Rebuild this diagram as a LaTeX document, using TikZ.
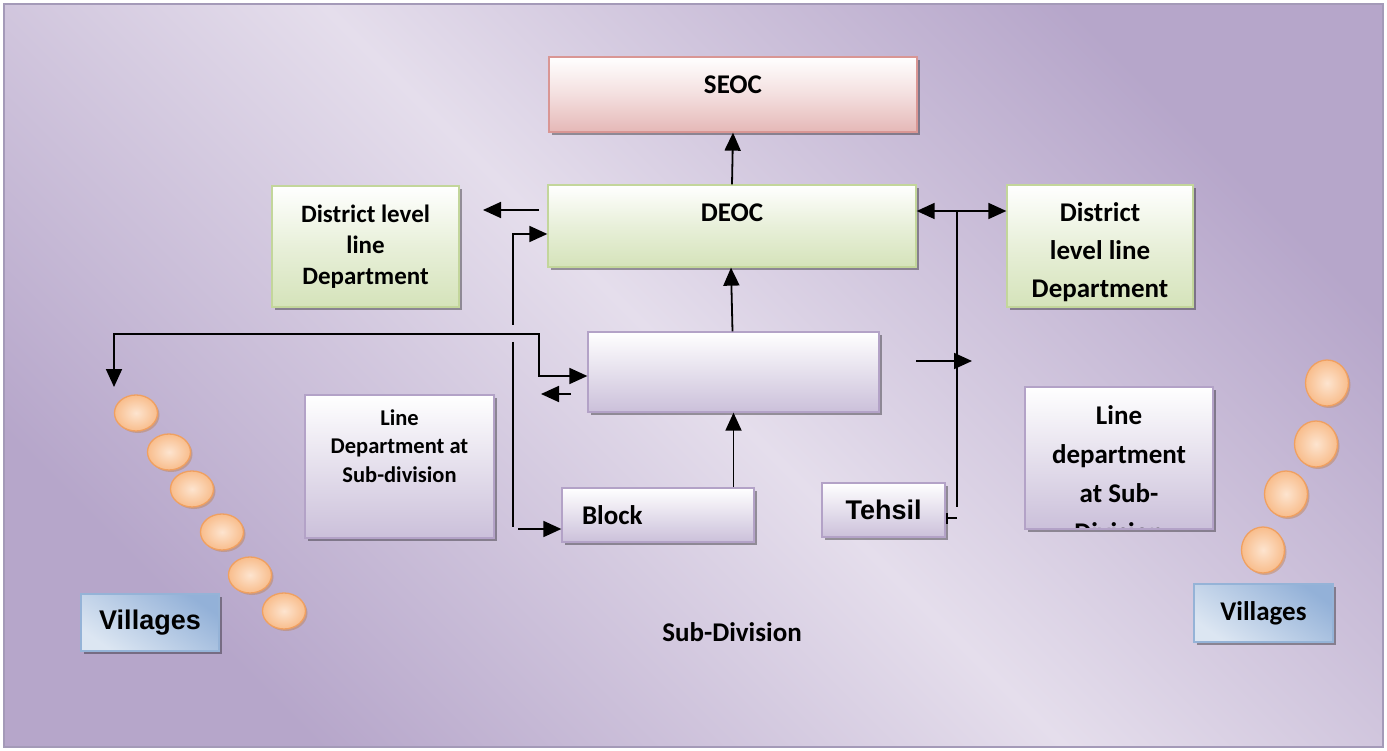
\documentclass[tikz,border=0pt]{standalone}
\usepackage{fontspec}
\newfontfamily\calib{Carlito}
\newfontfamily\arl{Liberation Sans}
\usetikzlibrary{shadows,shapes.geometric,arrows.meta}
\definecolor{bgdark}{HTML}{B6A6CA}
\definecolor{bglight}{HTML}{E5DEEC}
\definecolor{frameC}{HTML}{A49AB8}
\definecolor{grB}{HTML}{D5E3BA}
\definecolor{grD}{HTML}{C3D69B}
\definecolor{pkB}{HTML}{E5B8B7}
\definecolor{pkD}{HTML}{D99694}
\definecolor{puB}{HTML}{CBC0DA}
\definecolor{puD}{HTML}{B3A2C7}
\definecolor{blB}{HTML}{93B1D8}
\definecolor{blL}{HTML}{DCE6F2}
\definecolor{blD}{HTML}{95B3D7}
\definecolor{orL}{HTML}{FDE4CF}
\definecolor{orB}{HTML}{F8BD8C}
\definecolor{orD}{HTML}{F0A060}
\begin{document}
\begin{tikzpicture}[x=1pt,y=-1pt,
  shd/.style={drop shadow={shadow xshift=3pt,shadow yshift=-3pt,fill=black,opacity=0.35}},
  box/.style={rectangle, draw, line width=1.3pt, inner sep=0pt, shd,
    font=\calib\bfseries\fontsize{27}{33}\selectfont},
  pinkbox/.style={box, draw=pkD, top color=white, bottom color=pkB, middle color=pkB!45!white},
  greenbox/.style={box, draw=grD, top color=white, bottom color=grB, middle color=grB!55!white},
  purplebox/.style={box, draw=puD, top color=white, bottom color=puB, middle color=puB!50!white},
  bluebox/.style={box, draw=blD, top color=blB, bottom color=blL, shading angle=-35},
  bead/.style={ellipse, draw=orD, line width=1.3pt, inner color=orL, outer color=orB,
    inner sep=0pt, drop shadow={shadow xshift=2pt,shadow yshift=-2pt,fill=orD!80!black,opacity=0.45}},
  ln/.style={line width=1.8pt},
  arr/.style={ln, -{Triangle[length=18pt,width=16pt]}},
  darr/.style={ln, {Triangle[length=18pt,width=16pt]}-{Triangle[length=18pt,width=16pt]}},
  txt/.style={font=\calib\bfseries\fontsize{27}{33}\selectfont, inner sep=0pt}
]
% background and frame
\useasboundingbox (0,0) rectangle (1387,751);
\fill[white] (0,0) rectangle (1387,751);
\shade[top color=bgdark, bottom color=bgdark, middle color=bglight, shading angle=-45]
  (4,4) rectangle (1383,747);
\draw[frameC, line width=1.5pt] (4,4) rectangle (1383,747);

% boxes
\node[pinkbox, minimum width=368pt, minimum height=75pt, text depth=19pt] (SEOC) at (733,94.5) {SEOC};
\node[greenbox, minimum width=368pt, minimum height=82pt, text depth=26pt] (DEOC) at (732,226) {DEOC};
\node[greenbox, minimum width=187pt, minimum height=121pt, align=center,
  font=\calib\bfseries\fontsize{25}{31}\selectfont] (LDL) at (365.5,246.5) {District level\\line\\Department};
\node[greenbox, minimum width=186pt, minimum height=122pt, align=center, text height=107pt,
  font=\calib\bfseries\fontsize{27}{38}\selectfont] (RDL) at (1100,246) {District\\level line\\Department};
\node[purplebox, minimum width=291pt, minimum height=80pt] (MID) at (733.5,372) {};
\node[purplebox, minimum width=189pt, minimum height=143pt, align=center, text depth=41pt,
  font=\calib\bfseries\fontsize{22.5}{28.5}\selectfont] (LSD) at (399.5,466.5) {Line\\Department at\\Sub-division};
\node[purplebox, minimum height=54pt, text width=152pt, inner xsep=20pt, align=left] (Block) at (658,515) {Block};
\node[purplebox, minimum width=123pt, minimum height=54pt, font=\arl\bfseries\fontsize{27}{33}\selectfont] (Tehsil) at (883.5,510) {Tehsil};
\node[purplebox, minimum width=188pt, minimum height=142pt] (RSD) at (1119,458) {};
\begin{scope}
  \clip (1026,388) rectangle (1212,527);
  \node[txt, align=center, font=\calib\bfseries\fontsize{27}{39}\selectfont] (RSDtext) at (1119,474) {Line\\department\\at Sub-\\Division};
\end{scope}
\node[bluebox, minimum width=138pt, minimum height=57pt, font=\arl\bfseries\fontsize{27}{33}\selectfont] (VL) at (150,622.5) {Villages};
\node[bluebox, minimum width=139pt, minimum height=58pt] (VR) at (1263.5,613) {Villages};
\node[txt] (SubDiv) at (732,632) {Sub-Division};

% beads
\foreach \n/\x/\y in {c1/136/413, c2/169/452, c3/192/489, c4/222/532, c5/250/575, c6/284/611}
  \node[bead, minimum width=43pt, minimum height=36pt] (\n) at (\x,\y) {};
\foreach \n/\x/\y in {d1/1327/383, d2/1316/444, d3/1286/494, d4/1263/550}
  \node[bead, minimum width=43pt, minimum height=46pt] (\n) at (\x,\y) {};

% coordinates
\coordinate (a1s) at (539,210);
\coordinate (a1e) at (483,210);
\coordinate (v1b) at (513,325);
\coordinate (v1t) at (513,234);
\coordinate (v2t) at (513,342);
\coordinate (v2b) at (513,527);
\coordinate (b1s) at (518,529);
\coordinate (h1) at (114,387);
\coordinate (h2) at (114,334);
\coordinate (h3) at (539,334);
\coordinate (h4) at (539,376);
\coordinate (s1s) at (571,394);
\coordinate (s1e) at (541,394);
\coordinate (rv) at (957,211);
\coordinate (rvb) at (957,507);
\coordinate (r2s) at (916,361);
\coordinate (r2e) at (972,361);
\coordinate (t1) at (957,518);

% connectors
\draw[arr] (DEOC.north) -- (SEOC.south);
\draw[arr] (a1s) -- (a1e);
\draw[arr] (v1b) -- (v1t) -- (v1t -| DEOC.west);
\draw[ln] (v2t) -- (v2b);
\draw[arr] (b1s) -- (b1s -| Block.west);
\draw[darr] (h1) -- (h2) -- (h3) -- (h4) -- (h4 -| MID.west);
\draw[arr] (s1s) -- (s1e);
\draw[arr] ([xshift=-1pt]MID.north) -- ([xshift=-1pt]DEOC.south);
\draw[arr] (Block.north -| MID.south) -- (MID.south);
\draw[ln] (rv) -- (rvb);
\draw[darr] (rv -| DEOC.east) -- (rv -| RDL.west);
\draw[arr] (r2s) -- (r2e);
\draw[ln, -{Bar[width=11pt,line width=2.5pt]}] (t1) -- (t1 -| Tehsil.east);
\end{tikzpicture}
\end{document}
